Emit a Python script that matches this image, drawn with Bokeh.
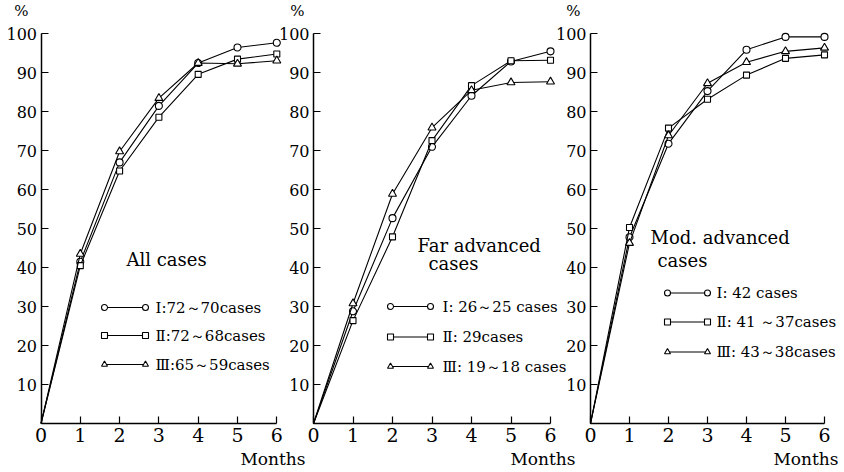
from bokeh.plotting import figure
from bokeh.layouts import row
from bokeh.models import Range1d, FixedTicker, Label
from bokeh.embed import file_html
from bokeh.resources import INLINE

# ---------------- data ----------------
months = [0, 1, 2, 3, 4, 5, 6]
x_ticks = [0, 1, 2, 3, 4, 5, 6]
y_ticks = [10, 20, 30, 40, 50, 60, 70, 80, 90, 100]

all_I = [0, 41.5, 67.0, 81.5, 92.5, 96.5, 97.7]
all_II = [0, 40.5, 64.8, 78.6, 89.6, 93.5, 94.8]
all_III = [0, 43.5, 69.8, 83.5, 92.5, 92.3, 93.1]

far_I = [0, 28.8, 52.7, 71.0, 84.1, 92.9, 95.5]
far_II = [0, 26.4, 47.9, 72.6, 86.7, 93.1, 93.2]
far_III = [0, 30.8, 58.9, 75.9, 85.5, 87.5, 87.7]

mod_I = [0, 47.8, 71.8, 85.3, 95.9, 99.2, 99.2]
mod_II = [0, 50.3, 75.8, 83.2, 89.4, 93.7, 94.6]
mod_III = [0, 46.3, 73.9, 87.3, 92.7, 95.5, 96.4]

legend_all = ["Ⅰ:72～70cases", "Ⅱ:72～68cases", "Ⅲ:65～59cases"]
legend_far = ["Ⅰ: 26～25 cases", "Ⅱ: 29cases", "Ⅲ: 19～18 cases"]
legend_mod = ["Ⅰ: 42 cases", "Ⅱ: 41 ～37cases", "Ⅲ: 43～38cases"]

title_all = ["All cases"]
title_far = ["Far  advanced", "cases"]
title_mod = ["Mod. advanced", "cases"]

markers = ["circle", "square", "triangle"]
marker_sizes = [7, 6, 8]

SERIF = "DejaVu Serif"
FIG_H = 470
ORIGIN_Y = 423.0      # screen y of value 0
PX_PER_PCT = 3.897    # screen px per percent

# layout parameters in screen pixels (positions / sizes only)
layouts = [
    dict(left=0, right=308, ox=40.5, kx=39.3, margin=None,
         pct=(21, 10), months=(305, 458),
         leg_x=(104, 145), leg_y=(307, 335, 364), leg_tx=155,
         titles=[(126, 259)]),
    dict(left=274, right=578, ox=313, kx=39.5, margin=(0, 0, 0, -34),
         pct=(297, 10), months=(575, 458),
         leg_x=(390, 430), leg_y=(306, 336.5, 366), leg_tx=442,
         titles=[(417, 245), (428, 263)]),
    dict(left=552, right=842, ox=590, kx=39.0, margin=(0, 0, 0, -26),
         pct=(573, 10), months=(838, 458),
         leg_x=(667, 707), leg_y=(292.5, 321.5, 351.5), leg_tx=716,
         titles=[(650, 237), (657, 260)]),
]


def make_panel(series, labels, titles, lay):
    def dx(sx):
        return (sx - lay["ox"]) / lay["kx"]

    def dy(sy):
        return (ORIGIN_Y - sy) / PX_PER_PCT

    W = lay["right"] - lay["left"]
    p = figure(width=W, height=FIG_H, min_border=0,
               min_border_left=0, min_border_right=0,
               min_border_top=0, min_border_bottom=0,
               x_range=Range1d(dx(lay["left"]), dx(lay["right"])),
               y_range=Range1d(dy(FIG_H), dy(0)),
               output_backend="svg", toolbar_location=None,
               border_fill_color=None, background_fill_color=None,
               outline_line_color=None)
    if lay["margin"] is not None:
        p.margin = lay["margin"]
    p.grid.visible = False

    for ax, ticks, bounds in ((p.xaxis, x_ticks, (0, 6)), (p.yaxis, y_ticks, (0, 100))):
        ax.fixed_location = 0
        ax.ticker = FixedTicker(ticks=ticks)
        ax.bounds = bounds
        ax.major_tick_in = 7
        ax.major_tick_out = 0
        ax.minor_tick_in = 0
        ax.minor_tick_out = 0
        ax.axis_line_width = 1.5
        ax.axis_line_color = "black"
        ax.major_tick_line_color = "black"
        ax.major_tick_line_width = 1.2
        ax.major_label_text_font = SERIF
        ax.major_label_text_color = "black"
    p.xaxis.major_label_text_font_size = "19px"
    p.yaxis.major_label_text_font_size = "16px"
    p.xaxis.major_label_standoff = 4
    p.yaxis.major_label_standoff = 4

    for ys, mk, ms in zip(series, markers, marker_sizes):
        p.line(months, ys, line_color="black", line_width=1.1)
        p.scatter(months[1:], ys[1:], marker=mk, size=ms,
                  fill_color="white", line_color="black", line_width=1.1)

    # legend rows: marker - line - marker + text
    xs = [dx(lay["leg_x"][0]), dx(lay["leg_x"][1])]
    for txt, mk, sy in zip(labels, markers, lay["leg_y"]):
        yy = dy(sy)
        p.line(xs, [yy, yy], line_color="black", line_width=1.1)
        p.scatter(xs, [yy, yy], marker=mk, size=6,
                  fill_color="white", line_color="black", line_width=1.1)
        p.add_layout(Label(x=dx(lay["leg_tx"]), y=yy, text=txt, text_align="left",
                           text_baseline="middle", text_font=SERIF,
                           text_font_size="15px", text_color="black"))

    for t, (sx, sy) in zip(titles, lay["titles"]):
        p.add_layout(Label(x=dx(sx), y=dy(sy), text=t, text_align="left",
                           text_baseline="middle", text_font=SERIF,
                           text_font_size="18px", text_color="black"))

    p.add_layout(Label(x=dx(lay["pct"][0]), y=dy(lay["pct"][1]), text="%",
                       text_align="center", text_baseline="middle",
                       text_font=SERIF, text_font_size="15px", text_color="black"))
    p.add_layout(Label(x=dx(lay["months"][0]), y=dy(lay["months"][1]), text="Months",
                       text_align="right", text_baseline="middle",
                       text_font=SERIF, text_font_size="17px", text_color="black"))
    return p


p1 = make_panel([all_I, all_II, all_III], legend_all, title_all, layouts[0])
p2 = make_panel([far_I, far_II, far_III], legend_far, title_far, layouts[1])
p3 = make_panel([mod_I, mod_II, mod_III], legend_mod, title_mod, layouts[2])

page = row(p1, p2, p3)
open("out.html", "w").write(file_html(page, INLINE))
